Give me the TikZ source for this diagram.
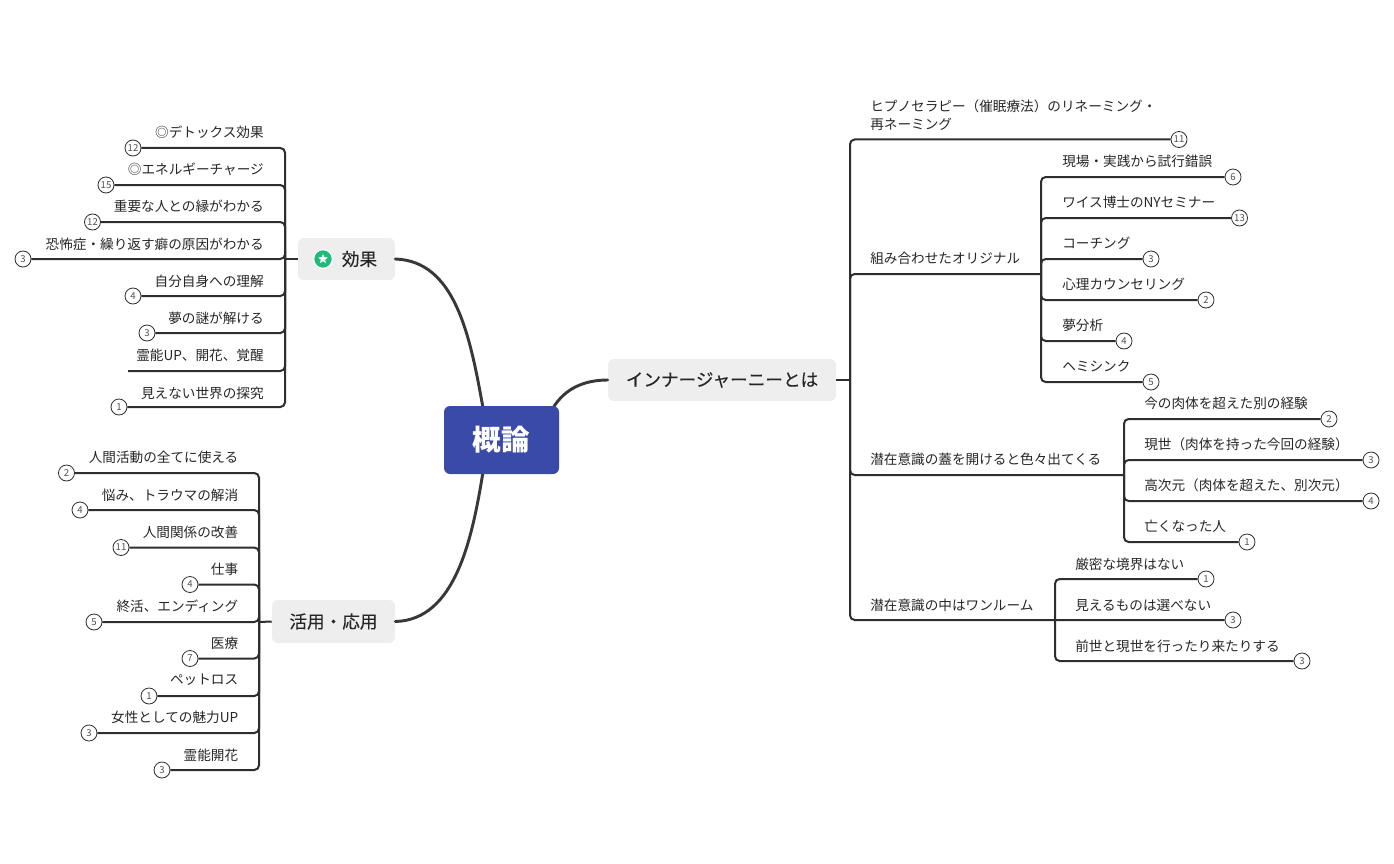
\documentclass[tikz,border=0pt]{standalone}
\usepackage{fontspec}
\usetikzlibrary{shapes.geometric}
\setmainfont{Noto Sans CJK JP}
\newfontfamily\topicfont[FakeBold=0.2]{Noto Sans CJK JP}
\definecolor{ink}{HTML}{262626}
\definecolor{wire}{HTML}{2E2E2E}
\definecolor{topicfill}{HTML}{EEEEEE}
\definecolor{rootfill}{HTML}{3A4AA8}
\definecolor{badge}{HTML}{1FBB7A}
\tikzset{
  leafL/.style={anchor=east,inner sep=0pt,text=ink,font=\fontsize{10.22}{13.2}\selectfont},
  leafR/.style={anchor=west,inner sep=0pt,text=ink,align=left,font=\fontsize{10.22}{13.2}\selectfont},
  bubble/.style={circle,draw=wire,line width=0.6pt,fill=white,minimum size=12pt,inner sep=0pt,text=ink!80,font=\fontsize{7.2}{8}\selectfont},
  conn/.style={draw=wire,line width=1.5pt,rounded corners=3.5pt},
  curve/.style={draw=wire!95,line width=2.2pt,line cap=round},
  topic/.style={fill=topicfill,rounded corners=4.5pt,inner sep=0pt,text=ink,font=\fontsize{13.2}{16}\selectfont\topicfont},
  rootnode/.style={fill=rootfill,rounded corners=4.5pt,inner sep=0pt,text=white,font=\fontsize{21.4}{24}\selectfont\bfseries},
}
\begin{document}
\begin{tikzpicture}[x=0.75pt,y=-0.75pt]
\useasboundingbox (0,0) rectangle (1394,863);

% topic nodes
\node[topic,minimum width={97*0.75pt},minimum height={42*0.75pt}] (eff) at (346.5,259) {};
\node[anchor=center,inner sep=0pt,text=ink,font=\fontsize{13.2}{16}\selectfont\topicfont] (efflabel) at (359.5,259) {効果};
\node[topic,minimum width={123*0.75pt},minimum height={43*0.75pt}] (use) at (333.5,621.5) {活用・応用};
\node[topic,minimum width={228*0.75pt},minimum height={42*0.75pt}] (inner) at (722,380) {インナージャーニーとは};
\node[circle,fill=badge,draw=white,line width=0.8pt,minimum size=14pt,inner sep=0pt] (badgeicon) at (323,259) {};
\node[star,star points=5,star point ratio=2.2,fill=white,minimum size=7.5pt,inner sep=0pt] (badgestar) at (323,259) {};

% main curves
\coordinate (r1) at (483,408);
\coordinate (r2) at (483,472);
\coordinate (r3) at (553,408);
\draw[curve] (eff.east) .. controls (455,261) and (470,335) .. (r1);
\draw[curve] (use.east) .. controls (455,620) and (472,540) .. (r2);
\draw[curve] (inner.west) .. controls (585,380) and (565,388) .. (r3);
\node[rootnode,minimum width={115*0.75pt},minimum height={68*0.75pt}] (root) at (501.5,440) {概論};

% left group: effects
\coordinate (je) at (285,259);
\foreach \i/\bx/\ly/\ty/\n/\t in {
  1/133/148/132/12/◎デトックス効果,
  2/106/185/169/15/◎エネルギーチャージ,
  3/92.5/222/206/12/重要な人との縁がわかる,
  4/23/259/244/3/恐怖症・繰り返す癖の原因がわかる,
  5/133/296/281/4/自分自身への理解,
  6/147/333/318/3/夢の謎が解ける,
  8/119/407/393/1/見えない世界の探究}{
  \node[leafL] (et\i) at (264,\ty) {\t};
  \node[bubble] (eb\i) at (\bx,\ly) {\n};
  \draw[conn] (je) |- (eb\i.east);
}
\node[leafL] (et7) at (264,355) {霊能UP、開花、覚醒};
\coordinate (ee7) at (128,371);
\draw[conn] (je) |- (ee7);
\draw[conn] (eff.west) -- (je);

% left group: uses
\coordinate (ju) at (259,622);
\foreach \i/\bx/\ly/\ty/\n/\t in {
  1/66.5/473/457/2/人間活動の全てに使える,
  2/80/510/495/4/悩み、トラウマの解消,
  3/121/547.5/532/11/人間関係の改善,
  4/190/584.5/569/4/仕事,
  5/94/622/606/5/終活、エンディング,
  6/190/658.5/643/7/医療,
  7/149/696/680/1/ペットロス,
  8/89/733/717/3/女性としての魅力UP,
  9/162/770/755/3/霊能開花}{
  \node[leafL] (ut\i) at (238.5,\ty) {\t};
  \node[bubble] (ub\i) at (\bx,\ly) {\n};
  \draw[conn] (ju) |- (ub\i.east);
}
\draw[conn] (use.west) -- (ju);

% right trunk
\coordinate (ji) at (850,380);
\draw[conn] (inner.east) -- (ji);
\node[leafR] (rt1) at (870,115) {ヒプノセラピー（催眠療法）のリネーミング・\\再ネーミング};
\node[bubble] (rb1) at (1179,139.5) {11};
\draw[conn] (ji) |- (rb1.west);

\node[leafR] (rt2) at (870,258) {組み合わせたオリジナル};
\coordinate (j2) at (1041,274);
\draw[conn] (ji) |- (j2);
\foreach \i/\bx/\ly/\ty/\n/\t in {
  1/1233/177/161/6/現場・実践から試行錯誤,
  2/1239.5/218/202/13/ワイス博士のNYセミナー,
  3/1151/259/243/3/コーチング,
  4/1206/300/284/2/心理カウンセリング,
  5/1124/341/325/4/夢分析,
  6/1151/382/366/5/ヘミシンク}{
  \node[leafR] (at\i) at (1062,\ty) {\t};
  \node[bubble] (ab\i) at (\bx,\ly) {\n};
  \draw[conn] (j2) |- (ab\i.west);
}

\node[leafR] (rt3) at (870,459) {潜在意識の蓋を開けると色々出てくる};
\coordinate (j3) at (1124,475);
\draw[conn] (ji) |- (j3);
\foreach \i/\bx/\ly/\ty/\n/\t in {
  1/1329/419/403/2/今の肉体を超えた別の経験,
  2/1371/460/444/3/現世（肉体を持った今回の経験）,
  3/1371/501/485/4/高次元（肉体を超えた、別次元）,
  4/1247/542/526/1/亡くなった人}{
  \node[leafR] (ct\i) at (1144,\ty) {\t};
  \node[bubble] (cb\i) at (\bx,\ly) {\n};
  \draw[conn] (j3) |- (cb\i.west);
}

\node[leafR] (rt4) at (870,605) {潜在意識の中はワンルーム};
\coordinate (j4) at (1055,620);
\node[bubble] (db2) at (1233,620) {3};
\draw[conn] (ji) |- (db2.west);
\foreach \i/\bx/\ly/\ty/\n/\t in {
  1/1206/579/564/1/厳密な境界はない,
  3/1302/661/646/3/前世と現世を行ったり来たりする}{
  \node[leafR] (dt\i) at (1075,\ty) {\t};
  \node[bubble] (db\i) at (\bx,\ly) {\n};
  \draw[conn] (j4) |- (db\i.west);
}
\node[leafR] (dt2) at (1075,605) {見えるものは選べない};
\end{tikzpicture}
\end{document}
